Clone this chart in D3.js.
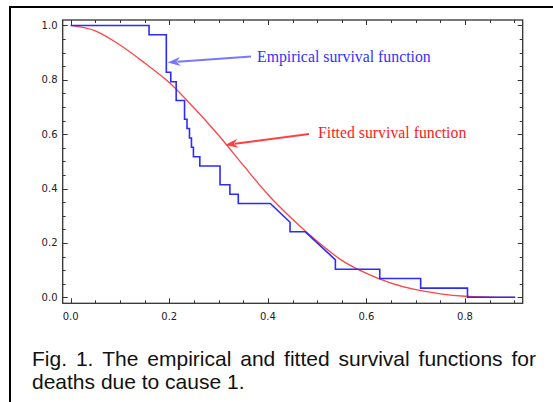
<!DOCTYPE html>
<html>
<head>
<meta charset="utf-8">
<script src="https://cdn.jsdelivr.net/npm/d3@7"></script>
<style>
  html, body { margin: 0; padding: 0; background: #fff; }
  svg { display: block; }
  .tick-label { font-family: "DejaVu Sans", sans-serif; font-size: 10px; fill: #222; }
  .note { font-family: "Liberation Serif", "Times New Roman", serif; font-size: 15.8px; }
  .caption { font-family: "Liberation Sans", Arial, sans-serif; font-size: 21px; fill: #111; }
</style>
</head>
<body>
<svg id="chart" width="553" height="402"></svg>
<script>
// empirical survival function: vertices of the step path (time, survival)
var empT = [0, 0.159, 0.159, 0.194, 0.194, 0.203, 0.203, 0.214, 0.214, 0.231, 0.231, 0.236, 0.236, 0.241, 0.241,
  0.245, 0.245, 0.249, 0.249, 0.262, 0.262, 0.303, 0.303, 0.323, 0.323, 0.340, 0.340, 0.405, 0.445, 0.445,
  0.476, 0.537, 0.537, 0.627, 0.627, 0.710, 0.710, 0.805, 0.805, 0.902];
var empS = [1, 1, 0.966, 0.966, 0.828, 0.828, 0.793, 0.793, 0.724, 0.724, 0.655, 0.655, 0.621, 0.621, 0.586,
  0.586, 0.552, 0.552, 0.517, 0.517, 0.483, 0.483, 0.414, 0.414, 0.379, 0.379, 0.345, 0.345, 0.276, 0.241,
  0.241, 0.138, 0.103, 0.103, 0.069, 0.069, 0.034, 0.034, 0, 0];

// fitted survival function
var fitT = [0, 0.05, 0.1, 0.15, 0.2, 0.25, 0.3, 0.35, 0.4, 0.45, 0.5, 0.55, 0.6, 0.65, 0.7, 0.75, 0.8, 0.85, 0.9];
var fitS = [1, 0.98, 0.928, 0.862, 0.79, 0.697, 0.596, 0.486, 0.378, 0.287, 0.206, 0.136, 0.088, 0.052, 0.028, 0.013, 0.004, 0.001, 0];

var xMajor = [0, 0.2, 0.4, 0.6, 0.8];
var yMajor = [0, 0.2, 0.4, 0.6, 0.8, 1.0];
var captionLines = ["Fig. 1. The empirical and fitted survival functions for", "deaths due to cause 1."];

var svg = d3.select("#chart");

// frame box of the plot
var L = 62.7, R = 522.7, T = 20, B = 303.3;
var x = d3.scaleLinear().domain([-0.0162, 0.917]).range([L, R]);
var y = d3.scaleLinear().domain([-0.022, 1.020]).range([B, T]);

// outer page border (left + top)
svg.append("path").attr("d", "M10,402V7H553").attr("fill", "none").attr("stroke", "#000").attr("stroke-width", 2);

var minorX = d3.range(0, 0.901, 0.05), minorY = d3.range(0, 1.001, 0.05);
function isMajor(v) { return Math.abs(v * 5 - Math.round(v * 5)) < 1e-6; }

var gTicks = svg.append("g").attr("stroke", "#333").attr("stroke-width", 1);
minorX.forEach(function (v) {
  var len = isMajor(v) ? 5 : 3, px = Math.round(x(v)) + 0.5;
  gTicks.append("line").attr("x1", px).attr("x2", px).attr("y1", B).attr("y2", B - len);
  gTicks.append("line").attr("x1", px).attr("x2", px).attr("y1", T).attr("y2", T + len);
});
minorY.forEach(function (v) {
  var len = isMajor(v) ? 5 : 3, py = Math.round(y(v)) + 0.5;
  gTicks.append("line").attr("x1", L).attr("x2", L + len).attr("y1", py).attr("y2", py);
  gTicks.append("line").attr("x1", R).attr("x2", R - len).attr("y1", py).attr("y2", py);
});

// curves
var lineEmp = d3.line().x(function (d) { return x(d[0]); }).y(function (d) { return y(d[1]); });
var lineFit = d3.line().x(function (d) { return x(d[0]); }).y(function (d) { return y(d[1]); }).curve(d3.curveMonotoneX);

svg.append("path").datum(fitT.map(function (t, i) { return [t, fitS[i]]; }))
  .attr("d", lineFit).attr("fill", "none").attr("stroke", "#ff4545").attr("stroke-width", 1.3);
svg.append("path").datum(empT.map(function (t, i) { return [t, empS[i]]; }))
  .attr("d", lineEmp).attr("fill", "none").attr("stroke", "#2b2bff").attr("stroke-width", 1.6)
  .attr("stroke-linejoin", "miter");

// frame
svg.append("rect").attr("x", L).attr("y", T).attr("width", R - L).attr("height", B - T)
  .attr("fill", "none").attr("stroke", "#333").attr("stroke-width", 1.3);

// tick labels
svg.selectAll("text.xl").data(xMajor).enter().append("text").attr("class", "tick-label")
  .attr("x", function (d) { return x(d); }).attr("y", 320).attr("text-anchor", "middle")
  .text(function (d) { return d3.format(".1f")(d); });
svg.selectAll("text.yl").data(yMajor).enter().append("text").attr("class", "tick-label")
  .attr("x", 57.5).attr("y", function (d) { return y(d) + 3.5; }).attr("text-anchor", "end")
  .text(function (d) { return d3.format(".1f")(d); });

// annotations with arrows
function arrow(x1, y1, x2, y2, color) {
  var a = Math.atan2(y2 - y1, x2 - x1), hl = 13, hw = 4.5;
  var bx = x2 - hl * Math.cos(a), by = y2 - hl * Math.sin(a);
  svg.append("line").attr("x1", x1).attr("y1", y1).attr("x2", bx + 3 * Math.cos(a)).attr("y2", by + 3 * Math.sin(a))
    .attr("stroke", color).attr("stroke-width", 2);
  var p = [[x2, y2], [bx - hw * Math.sin(a), by + hw * Math.cos(a)], [bx + 4 * Math.cos(a), by + 4 * Math.sin(a)], [bx + hw * Math.sin(a), by - hw * Math.cos(a)]];
  svg.append("path").attr("d", "M" + p.join("L") + "Z").attr("fill", color);
}
arrow(251, 56.5, 167.5, 62.5, "#7878ff");
arrow(309, 134, 225, 145, "#ff4040");

svg.append("text").attr("class", "note").attr("x", 257).attr("y", 62).attr("fill", "#3333ff").text("Empirical survival function");
svg.append("text").attr("class", "note").attr("x", 318).attr("y", 138).attr("fill", "#ff2020").text("Fitted survival function");

// caption: first line justified between 32 and 536
var capL = 32, capR = 536;
var words = captionLines[0].split(" ");
var tmp = svg.append("g");
var widths = words.map(function (w) { var t = tmp.append("text").attr("class", "caption").text(w); var wd = t.node().getComputedTextLength(); return wd; });
tmp.remove();
var total = d3.sum(widths), gap = (capR - capL - total) / (words.length - 1), cx = capL;
words.forEach(function (w, i) {
  svg.append("text").attr("class", "caption").attr("x", cx).attr("y", 366).text(w);
  cx += widths[i] + gap;
});
svg.append("text").attr("class", "caption").attr("x", capL).attr("y", 389).text(captionLines[1]);
</script>
</body>
</html>
